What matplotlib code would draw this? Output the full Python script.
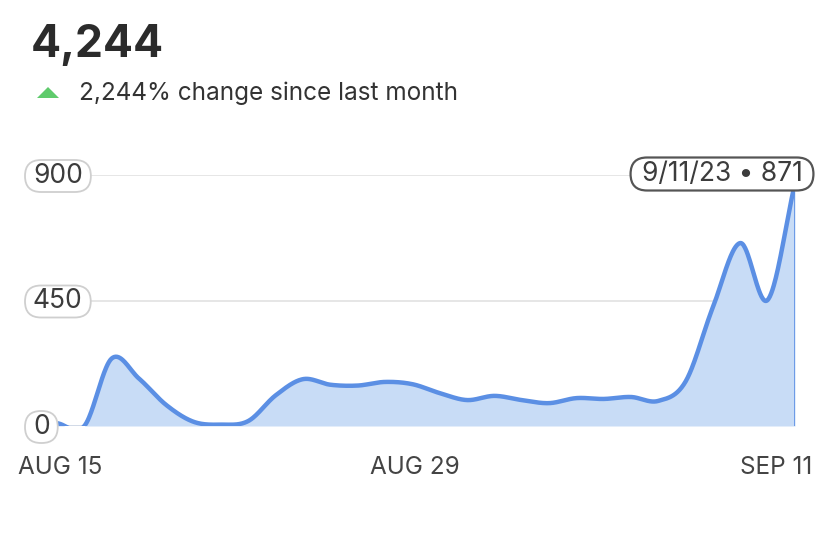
import numpy as np
import matplotlib
matplotlib.use("Agg")
import matplotlib.pyplot as plt
from matplotlib import transforms
from matplotlib.patches import Polygon, FancyBboxPatch

# ---- data ----
dates = ["Aug 15", "Aug 16", "Aug 17", "Aug 18", "Aug 19", "Aug 20", "Aug 21",
         "Aug 22", "Aug 23", "Aug 24", "Aug 25", "Aug 26", "Aug 27", "Aug 28",
         "Aug 29", "Aug 30", "Aug 31", "Sep 1", "Sep 2", "Sep 3", "Sep 4",
         "Sep 5", "Sep 6", "Sep 7", "Sep 8", "Sep 9", "Sep 10", "Sep 11"]
values = [10, 0, 242, 170, 75, 15, 5, 18, 110, 168, 148, 145, 158, 150,
          118, 93, 108, 93, 82, 100, 97, 104, 90, 160, 427, 656, 452, 871]
y_ticks = [0, 450, 900]
x_tick_labels = ["AUG 15", "AUG 29", "SEP 11"]
x_tick_idx = [0.1, 13.1, 26.3]
title_value = "4,244"
subtitle = "2,244% change since last month"
tooltip = "9/11/23 \u2022 871"

W, H = 828, 542
FONT = ["Inter", "DejaVu Sans"]
plt.rcParams['font.family'] = FONT

LINE = "#5b8fe4"
FILL = "#c8dcf6"

def catmull(y, n=40):
    y = np.asarray(y, float)
    N = len(y)
    m = np.zeros(N)
    m[1:-1] = (y[2:] - y[:-2]) / 2
    m[0] = y[1] - y[0]
    m[-1] = y[-1] - y[-2]
    xs, ys = [], []
    for i in range(N - 1):
        t = np.linspace(0, 1, n, endpoint=False)
        h00 = 2*t**3 - 3*t**2 + 1
        h10 = t**3 - 2*t**2 + t
        h01 = -2*t**3 + 3*t**2
        h11 = t**3 - t**2
        ys.append(h00*y[i] + h10*m[i] + h01*y[i+1] + h11*m[i+1])
        xs.append(i + t)
    xs.append(np.array([N-1.0])); ys.append(np.array([y[-1]]))
    return np.concatenate(xs), np.concatenate(ys)

fig = plt.figure(figsize=(W/100, H/100), dpi=100)
fig.patch.set_facecolor("white")

ax = fig.add_axes([57/W, (H-426)/H, 738/W, 251/H])
ax.set_xlim(0, len(values)-1)
ax.set_ylim(0, 900)
for s in ax.spines.values():
    s.set_visible(False)
ax.set_xticks([]); ax.set_yticks([])
ax.patch.set_alpha(0)

for v in y_ticks[1:]:
    ax.axhline(v, color="#e2e2e2", lw=1.2, zorder=0)
ax.axhline(0, color="#c9d3e3", lw=1.2, zorder=1)

xs, ys = catmull(values)
ysc = np.clip(ys, 0, None)
ax.fill_between(xs, 0, ysc, color=FILL, lw=0, zorder=2)
ax.plot(xs, ys, color=LINE, lw=3.2, solid_capstyle="round", zorder=3)
ax.plot([len(values)-1, len(values)-1], [0, values[-1]], color=LINE, lw=1.2, zorder=3)
ax.plot([len(values)-1], [values[-1]], "o", ms=9, mfc=LINE, mec="#eef3fc", mew=2,
        zorder=4, clip_on=False)

fig.canvas.draw()
renderer = fig.canvas.get_renderer()
PIX = transforms.IdentityTransform()

def pill(text, cy_pix, left=None, center=None, ec="#cfcfcf", lw=1.3, fs=19,
         hpad=8, hgt=32):
    t = fig.text(0, 0, text, ha="center", va="center", fontsize=fs,
                 color="#3c3c3c", zorder=6)
    w = t.get_window_extent(renderer).width
    pw = max(w + 2*hpad, hgt)
    cx = left + pw/2 if left is not None else center
    t.set_position((cx/W, cy_pix/H))
    p = FancyBboxPatch((cx - pw/2, cy_pix - hgt/2), pw, hgt,
                       boxstyle="round,pad=0,rounding_size=%f" % (hgt/2),
                       transform=PIX, fc="white", ec=ec, lw=lw, zorder=5)
    fig.patches.append(p)
    return t

for v in y_ticks:
    cy = ax.transData.transform((0, v))[1]
    pill(str(v), cy - 1, left=25)

trx = transforms.blended_transform_factory(ax.transData, fig.transFigure)
for idx, lab in zip(x_tick_idx, x_tick_labels):
    ax.text(idx, 1 - 467/H, lab, transform=trx, ha="center", va="center",
            fontsize=17.5, color="#444444")

pill(tooltip, H - 174, center=722, ec="#555555", lw=1.6, fs=19, hpad=11, hgt=33)

fig.text(31/W, 1 - 45/H, title_value, ha="left", va="center", fontsize=32,
         fontweight="bold", color="#2b2b2b")
fig.text(79/W, 1 - 93/H, subtitle, ha="left", va="center", fontsize=17.5,
         color="#333333")
tri = Polygon([[37/W, 1-98/H], [59/W, 1-98/H], [48/W, 1-87/H]], closed=True,
              transform=fig.transFigure, fc="#5fcb6c", ec="none")
fig.patches.append(tri)

fig.savefig("out.png", dpi=100, facecolor="white")
